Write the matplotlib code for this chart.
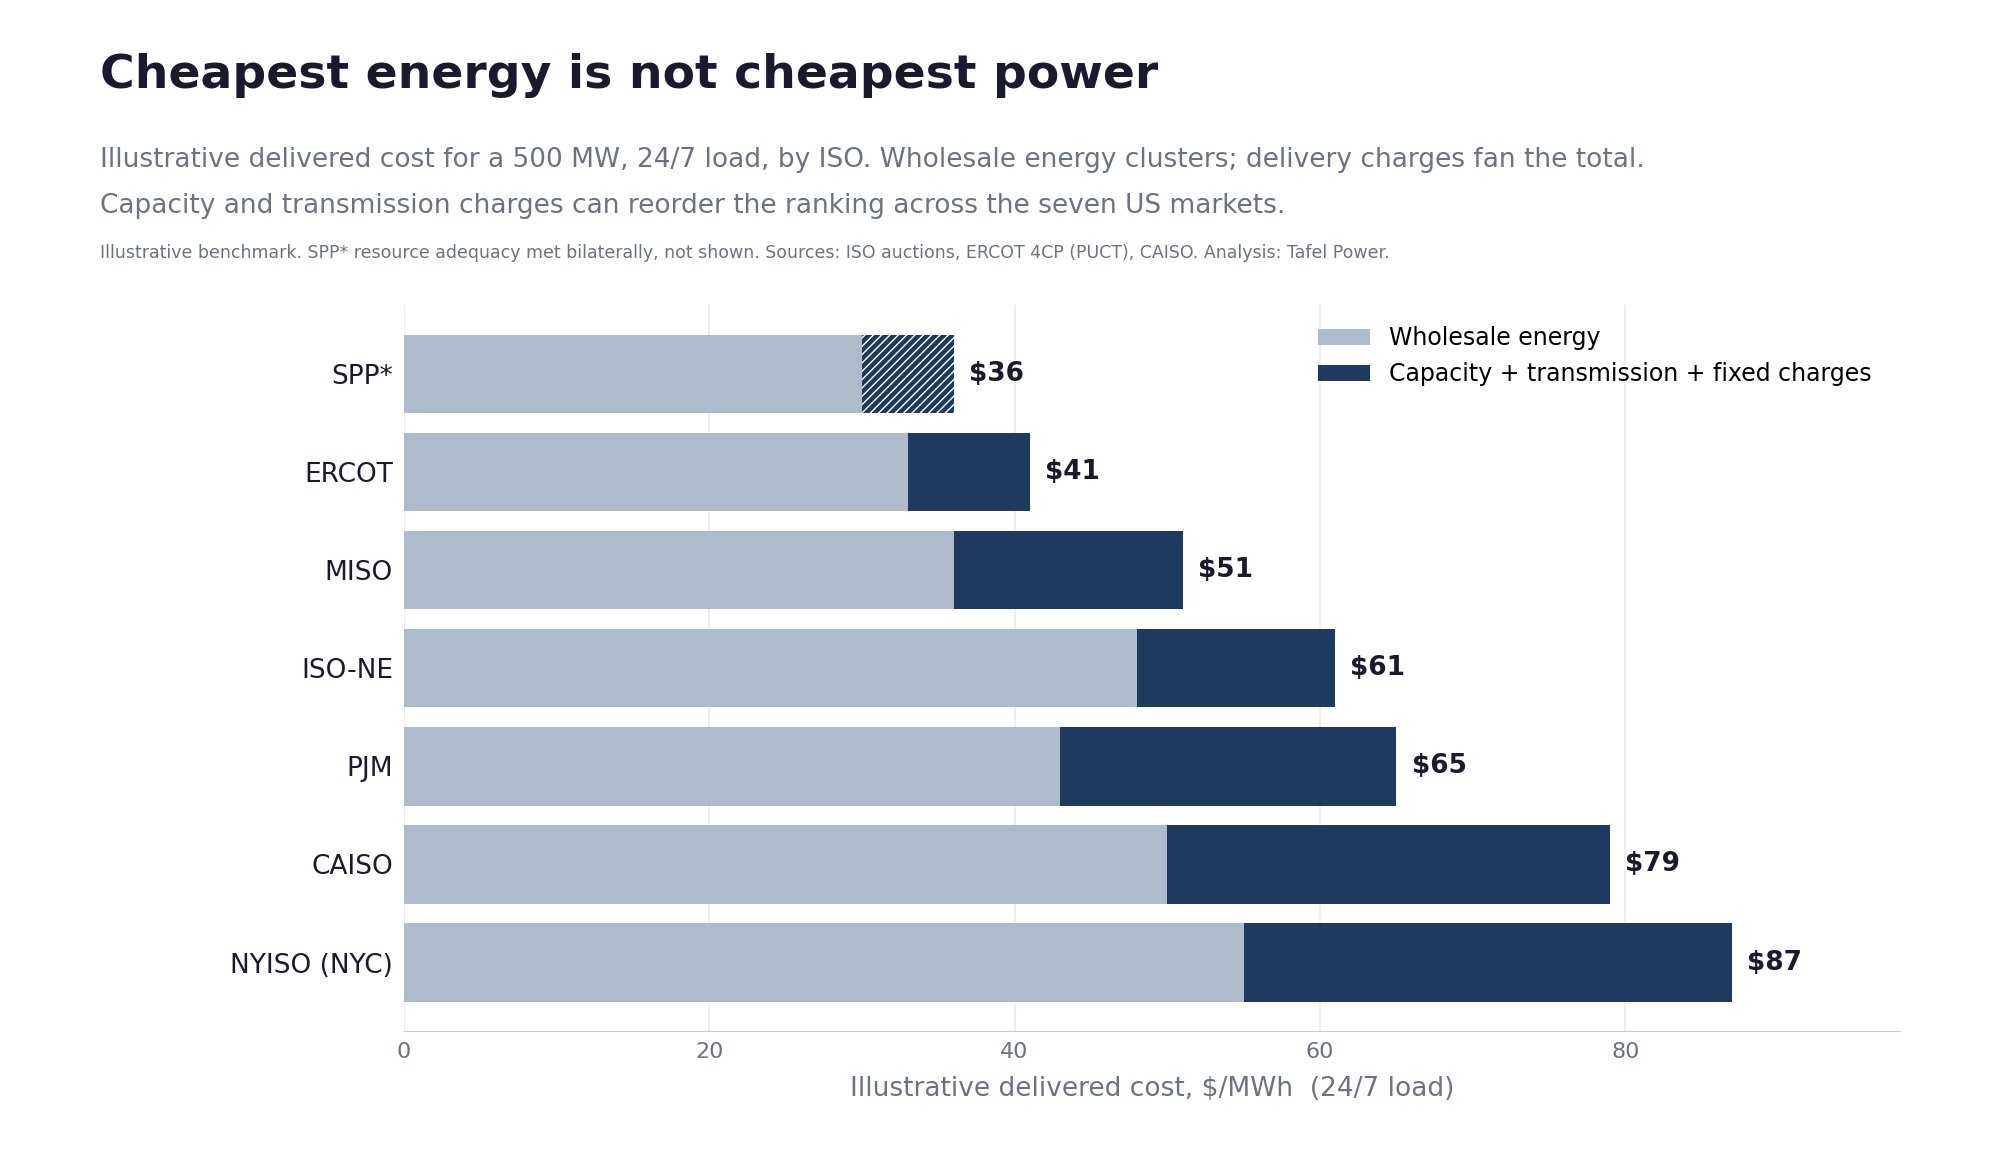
import matplotlib.pyplot as plt

# -------------------------
# Data
# -------------------------
isos = ["SPP*", "ERCOT", "MISO", "ISO-NE", "PJM", "CAISO", "NYISO (NYC)"]
energy = [30, 33, 36, 48, 43, 50, 55]
fixed = [6, 8, 15, 13, 22, 29, 32]
totals = [e + f for e, f in zip(energy, fixed)]

E_COL = "#aebbcb"
F_COL = "#1e3a5f"
DARK = "#1a1a2e"
GRAY = "#6b7280"

fig = plt.figure(figsize=(20, 11.6), dpi=100)
ax = fig.add_axes([0.202, 0.111, 0.748, 0.626])

y = list(range(len(isos)))
ax.barh(y, energy, height=0.8, color=E_COL, label="Wholesale energy", zorder=2)
for i, (e, f) in enumerate(zip(energy, fixed)):
    if isos[i] == "SPP*":
        ax.barh(i, f, left=e, height=0.8, color=F_COL, hatch="////",
                edgecolor="white", linewidth=0, zorder=2)
    else:
        ax.barh(i, f, left=e, height=0.8, color=F_COL, zorder=2,
                label="Capacity + transmission + fixed charges" if i == 1 else None)
for i, t in enumerate(totals):
    ax.text(t + 1, i, f"${t}", va="center", ha="left", fontsize=19,
            fontweight="bold", color=DARK)

ax.set_yticks(y)
ax.set_yticklabels(isos, fontsize=19, color=DARK)
ax.invert_yaxis()
ax.set_ylim(len(isos) - 0.3, -0.7)
ax.set_xlim(0, 98)
ax.set_xticks([0, 20, 40, 60, 80])
ax.tick_params(axis="x", labelsize=16, labelcolor=GRAY, length=0, pad=8)
ax.tick_params(axis="y", length=0, pad=8)
ax.grid(axis="x", color="#ececec", linewidth=1.2, zorder=0)
for s in ["top", "right", "left"]:
    ax.spines[s].set_visible(False)
ax.spines["bottom"].set_color("#c8ccd8")
ax.set_xlabel("Illustrative delivered cost, $/MWh  (24/7 load)", fontsize=19,
              color=GRAY, labelpad=10)

ax.legend(loc="upper right", frameon=False, fontsize=17, handlelength=2.2,
          bbox_to_anchor=(0.995, 1.0))

fig.text(0.05, 0.935, "Cheapest energy is not cheapest power", fontsize=34,
         fontweight="bold", color=DARK, va="center")
fig.text(0.05, 0.862, "Illustrative delivered cost for a 500 MW, 24/7 load, by ISO. "
         "Wholesale energy clusters; delivery charges fan the total.",
         fontsize=19, color=GRAY, va="center")
fig.text(0.05, 0.822, "Capacity and transmission charges can reorder the ranking "
         "across the seven US markets.", fontsize=19, color=GRAY, va="center")
fig.text(0.05, 0.782, "Illustrative benchmark. SPP* resource adequacy met bilaterally, "
         "not shown. Sources: ISO auctions, ERCOT 4CP (PUCT), CAISO. Analysis: Tafel Power.",
         fontsize=12.5, color=GRAY, va="center")

fig.savefig("out.png", dpi=100)
